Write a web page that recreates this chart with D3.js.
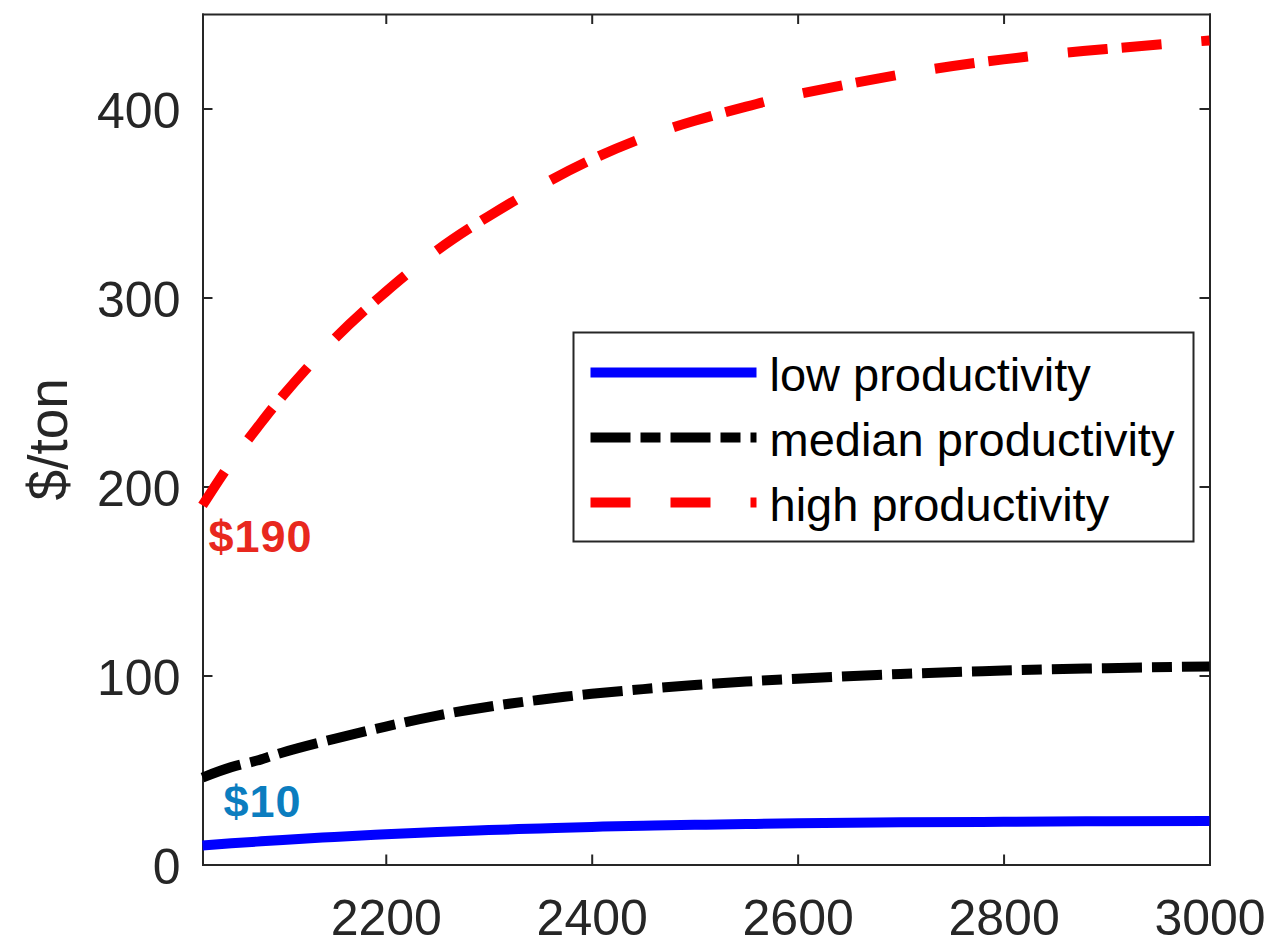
<!DOCTYPE html>
<html>
<head>
<meta charset="utf-8">
<script src="https://cdn.jsdelivr.net/npm/d3@7"></script>
<style>
  body { margin: 0; background: #fff; }
  svg { display: block; font-family: 'Liberation Sans', Arial, Helvetica, sans-serif; }
  .axis path, .axis line { stroke: #262626; stroke-width: 2; }
  .axis text { fill: #262626; font-size: 50px; }
</style>
</head>
<body>
<svg class="chart" width="1286" height="941"></svg>
<script>
// years sampled along the curves
const years = [2022, 2050, 2075, 2100, 2150, 2200, 2250, 2300, 2350, 2400, 2450, 2500, 2550, 2600, 2700, 2800, 2900, 3000]

// $/ton for each scenario
const lowValues = [10, 11.2, 12.1, 13, 14.6, 16, 17.2, 18.2, 19.1, 19.9, 20.5, 21, 21.4, 21.8, 22.3, 22.6, 22.9, 23]
const medianValues = [46, 51.5, 55, 59.3, 66.5, 73, 78.8, 83.5, 87.2, 90.3, 92.8, 95, 96.8, 98.3, 100.8, 102.6, 103.9, 104.8]
const highValues = [190, 213, 231, 248, 278, 303, 325, 343, 359, 373, 384.5, 393.5, 401, 407.5, 418, 426, 431.5, 436]

const seriesNames = ['low productivity', 'median productivity', 'high productivity']

const xTicks = [2200, 2400, 2600, 2800, 3000]
const yTicks = [0, 100, 200, 300, 400]

// start-value callouts
const calloutText = ['$10', '$190']
const calloutValues = [10, 190]

const svg = d3.select('.chart')

const plotLeft = 202.5
const plotRight = 1209.5
const plotTop = 14
const plotBottom = 864.5

const xScale = d3.scaleLinear().domain([2022, 3000]).range([plotLeft, plotRight])
const yScale = d3.scaleLinear().domain([0, 450]).range([plotBottom, plotTop])

const series = [
  { name: seriesNames[0], values: lowValues, color: '#0000ff', dash: null, legendDash: null },
  { name: seriesNames[1], values: medianValues, color: '#000000', dash: '40,10,20,10,40,10', legendDash: '40,10,20,10' },
  { name: seriesNames[2], values: highValues, color: '#ff0000', dash: '40,40,40,14', legendDash: '40,40' },
]

// axes, ticks pointing in, box on all four sides
svg.append('g')
  .attr('class', 'axis')
  .attr('transform', `translate(0, ${plotBottom})`)
  .call(d3.axisBottom(xScale).tickValues(xTicks).tickFormat(d3.format('d'))
    .tickSizeInner(-10).tickSizeOuter(0).tickPadding(35))

svg.append('g')
  .attr('class', 'axis')
  .attr('transform', `translate(${plotLeft}, 0)`)
  .call(d3.axisLeft(yScale).tickValues(yTicks)
    .tickSizeInner(-10).tickSizeOuter(0).tickPadding(22))
  .selectAll('text')
  .attr('dy', '0.38em')

svg.append('g')
  .attr('class', 'axis')
  .attr('transform', `translate(0, ${plotTop})`)
  .call(d3.axisTop(xScale).tickValues(xTicks).tickFormat('')
    .tickSizeInner(-10).tickSizeOuter(0))

svg.append('g')
  .attr('class', 'axis')
  .attr('transform', `translate(${plotRight}, 0)`)
  .call(d3.axisRight(yScale).tickValues(yTicks).tickFormat('')
    .tickSizeInner(-10).tickSizeOuter(0))

svg.selectAll('.axis .domain').attr('stroke-linecap', 'square')

const line = d3.line()
  .x((d, i) => xScale(years[i]))
  .y(d => yScale(d))
  .curve(d3.curveNatural)

svg.append('g')
  .selectAll('path')
  .data(series)
  .enter()
  .append('path')
  .attr('d', s => line(s.values))
  .attr('fill', 'none')
  .attr('stroke', s => s.color)
  .attr('stroke-width', 10)
  .attr('stroke-linecap', 'butt')
  .attr('stroke-dasharray', s => s.dash)

// callouts
svg.append('text')
  .attr('x', xScale(years[0]) + 21)
  .attr('y', yScale(calloutValues[0]) - 29)
  .attr('fill', '#0b7dbf')
  .attr('font-size', 45)
  .attr('font-weight', 'bold')
  .attr('letter-spacing', 1)
  .text(calloutText[0])

svg.append('text')
  .attr('x', xScale(years[0]) + 6)
  .attr('y', yScale(calloutValues[1]) + 47)
  .attr('fill', '#e8281e')
  .attr('font-size', 45)
  .attr('font-weight', 'bold')
  .attr('letter-spacing', 1)
  .text(calloutText[1])

// y label
svg.append('text')
  .attr('transform', `translate(67, ${(plotTop + plotBottom) / 2}) rotate(-90)`)
  .attr('text-anchor', 'middle')
  .attr('fill', '#262626')
  .attr('font-size', 55)
  .text('$/ton')

// legend
const legend = svg.append('g').attr('transform', 'translate(573.5, 332.5)')

legend.append('rect')
  .attr('width', 620)
  .attr('height', 209)
  .attr('fill', '#fff')
  .attr('stroke', '#262626')
  .attr('stroke-width', 2)

const rows = legend.selectAll('.row')
  .data(series)
  .enter()
  .append('g')
  .attr('class', 'row')
  .attr('transform', (s, i) => `translate(0, ${40 + i * 65})`)

rows.append('line')
  .attr('x1', 17)
  .attr('x2', 183)
  .attr('stroke', s => s.color)
  .attr('stroke-width', 10)
  .attr('stroke-dasharray', s => s.legendDash)

rows.append('text')
  .attr('x', 196)
  .attr('y', 18)
  .attr('font-size', 47)
  .attr('fill', '#000')
  .text(s => s.name)
</script>
</body>
</html>
